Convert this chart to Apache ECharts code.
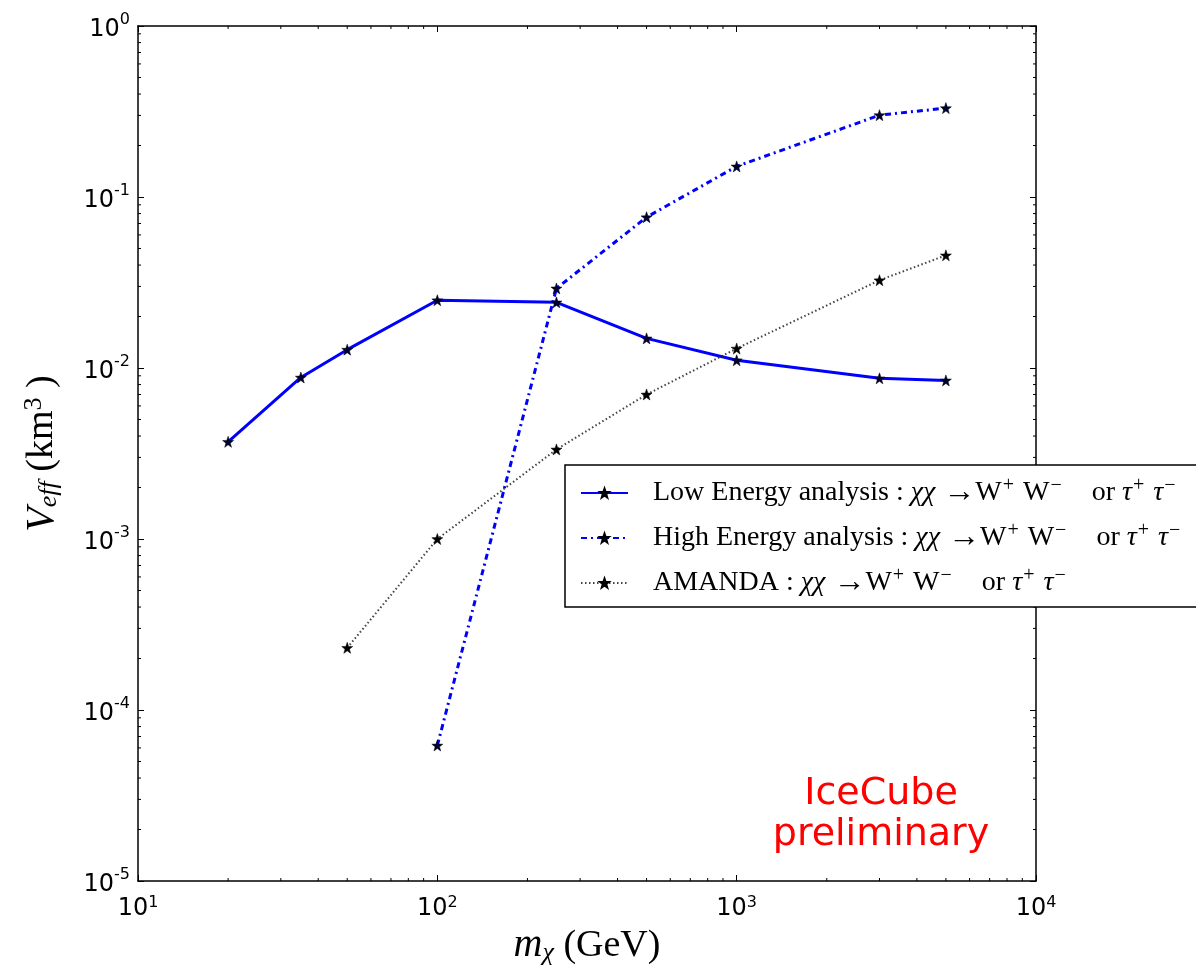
<!DOCTYPE html>
<html><head><meta charset="utf-8">
<script src="https://cdn.jsdelivr.net/npm/echarts@6/dist/echarts.min.js"></script>
<style>html,body{margin:0;padding:0;background:#fff}#c{width:1196px;height:966px}</style>
</head><body><div id="c"></div>
<script>
// ---- data ----
const massesLow = [20, 35, 50, 100, 250, 500, 1000, 3000, 5000];
const veffLow = [0.0037, 0.0088, 0.0128, 0.0249, 0.0242, 0.0149, 0.0111, 0.0087, 0.00846];
const massesHigh = [100, 250, 500, 1000, 3000, 5000];
const veffHigh = [6.2e-5, 0.0292, 0.0762, 0.151, 0.301, 0.331];
const massesAmanda = [50, 100, 250, 500, 1000, 3000, 5000];
const veffAmanda = [2.31e-4, 1.0e-3, 3.34e-3, 7.0e-3, 0.0130, 0.0326, 0.0456];
const seriesNames = ['Low Energy analysis', 'High Energy analysis', 'AMANDA'];
const xRange = [10, 10000];
const yRange = [1e-5, 1];
const minorMultipliers = [2, 3, 4, 5, 6, 7, 8, 9];

function pairs(xs, ys) { return xs.map((x, i) => [x, ys[i]]); }
function decadesBetween(lo, hi) { const d = []; for (let v = lo; v < hi * 0.999; v *= 10) d.push(v); return d; }
const xMinor = []; decadesBetween(xRange[0], xRange[1]).forEach(d => minorMultipliers.forEach(m => xMinor.push([d * m, 1e-3])));
const yMinor = []; decadesBetween(yRange[0], yRange[1]).forEach(d => minorMultipliers.forEach(m => yMinor.push([100, d * m])));

const STAR = 'path://M0,-10 L2.35,-3.24 L9.51,-3.09 L3.8,1.24 L5.88,8.09 L0,4 L-5.88,8.09 L-3.8,1.24 L-9.51,-3.09 L-2.35,-3.24 Z';
const SERIF = 'Liberation Serif';
const SANS = 'DejaVu Sans';

function tickLabel(margin, basePad) {
  return {
    margin: margin,
    showMinLabel: true, showMaxLabel: true,
    formatter: v => '{b|10}{s|' + Math.round(Math.log10(v)) + '}',
    rich: {
      b: { fontSize: 24, fontFamily: SANS, color: '#000', padding: basePad },
      s: { fontSize: 16, fontFamily: SANS, color: '#000', padding: [0, 0, 12, 0] }
    }
  };
}
const axisLineStyle = { show: true, lineStyle: { color: '#000', width: 1.5 } };
const majorTick = { show: true, inside: true, length: 6, lineStyle: { color: '#000', width: 1 } };

const legendRich = {
  sp: { width: 20, fontFamily: SERIF, fontSize: 28 },
  n: { fontFamily: SERIF, fontSize: 28, color: '#000' },
  i: { fontFamily: SERIF, fontSize: 28, fontStyle: 'italic', color: '#000' },
  ar: { fontFamily: SERIF, fontSize: 32, color: '#000' },
  sup: { fontFamily: SERIF, fontSize: 20, color: '#000', padding: [0, 2, 14, 1] }
};
const reaction = '{n|: }{i|χχ}{ar| →}{n|W}{sup|+}{n| W}{sup|−}{n|    or }{i|τ}{sup|+}{n| }{i|τ}{sup|−}';
const legendText = {
  'Low Energy analysis': '{sp|}{n|Low Energy analysis }' + reaction,
  'High Energy analysis': '{sp|}{n|High Energy analysis }' + reaction,
  'AMANDA': '{sp|}{n|AMANDA }' + reaction
};

function minorX(params, api) {
  const cs = params.coordSys;
  const p = api.coord([api.value(0), api.value(1)]);
  const b = cs.y + cs.height, t = cs.y;
  const st = { stroke: '#000', lineWidth: 1 };
  return { type: 'group', children: [
    { type: 'line', shape: { x1: p[0], y1: b, x2: p[0], y2: b - 3 }, style: st },
    { type: 'line', shape: { x1: p[0], y1: t, x2: p[0], y2: t + 3 }, style: st }
  ]};
}
function minorY(params, api) {
  const cs = params.coordSys;
  const p = api.coord([api.value(0), api.value(1)]);
  const l = cs.x, r = cs.x + cs.width;
  const st = { stroke: '#000', lineWidth: 1 };
  return { type: 'group', children: [
    { type: 'line', shape: { x1: l, y1: p[1], x2: l + 3, y2: p[1] }, style: st },
    { type: 'line', shape: { x1: r, y1: p[1], x2: r - 3, y2: p[1] }, style: st }
  ]};
}

const chart = echarts.init(document.getElementById('c'), null, { renderer: 'canvas' });
chart.setOption({
  backgroundColor: '#fff',
  animation: false,
  grid: { left: 138, top: 26, width: 898, height: 855, show: false, containLabel: false, outerBoundsMode: 'none' },
  xAxis: [
    { type: 'log', logBase: 10, min: xRange[0], max: xRange[1], position: 'bottom',
      axisLine: axisLineStyle, axisTick: majorTick, axisLabel: tickLabel(14, 0), splitLine: { show: false },
      name: '{m|m}{sub|χ}{n| (GeV)}', nameLocation: 'middle', nameGap: 44,
      nameTextStyle: { rich: {
        m: { fontFamily: SERIF, fontSize: 40, fontStyle: 'italic', color: '#000' },
        sub: { fontFamily: SERIF, fontSize: 26, fontStyle: 'italic', color: '#000', padding: [14, 0, 0, 0] },
        n: { fontFamily: SERIF, fontSize: 38, color: '#000' }
      } } },
    { type: 'log', logBase: 10, min: xRange[0], max: xRange[1], position: 'top',
      axisLine: axisLineStyle, axisTick: majorTick, axisLabel: { show: false }, splitLine: { show: false } }
  ],
  yAxis: [
    { type: 'log', logBase: 10, min: yRange[0], max: yRange[1], position: 'left',
      axisLine: axisLineStyle, axisTick: majorTick, axisLabel: tickLabel(8, [8, 0, 0, 0]), splitLine: { show: false },
      name: '{v|V}{sub|eff}{n| (km}{sup|3}{n| )}', nameLocation: 'middle', nameGap: 75, nameRotate: 90,
      nameTextStyle: { rich: {
        v: { fontFamily: SERIF, fontSize: 40, fontStyle: 'italic', color: '#000' },
        sub: { fontFamily: SERIF, fontSize: 26, fontStyle: 'italic', color: '#000', padding: [14, 0, 0, 0] },
        n: { fontFamily: SERIF, fontSize: 38, color: '#000' },
        sup: { fontFamily: SERIF, fontSize: 26, color: '#000', padding: [0, 0, 16, 0] }
      } } },
    { type: 'log', logBase: 10, min: yRange[0], max: yRange[1], position: 'right',
      axisLine: axisLineStyle, axisTick: majorTick, axisLabel: { show: false }, splitLine: { show: false } }
  ],
  legend: {
    orient: 'vertical', left: 565, top: 465,
    data: seriesNames,
    itemWidth: 47, itemHeight: 11, itemGap: 12,
    padding: [11, 40, 8, 15],
    borderColor: '#000', borderWidth: 1.5, borderRadius: 0, backgroundColor: '#fff',
    textStyle: { fontFamily: SERIF, fontSize: 28, lineHeight: 30, color: '#000', rich: legendRich },
    formatter: name => legendText[name]
  },
  graphic: [{
    type: 'text', x: 881, y: 774, z: 100,
    style: { text: 'IceCube\npreliminary', fill: '#ff0000', fontSize: 38, fontFamily: SANS,
      align: 'center', verticalAlign: 'top', lineHeight: 41 }
  }],
  series: [
    { name: seriesNames[0], type: 'line', data: pairs(massesLow, veffLow),
      symbol: STAR, symbolSize: 11, showSymbol: true,
      lineStyle: { color: '#0000ff', width: 3, type: 'solid' },
      itemStyle: { color: '#000033', borderColor: '#000', borderWidth: 0.5 } },
    { name: seriesNames[1], type: 'line', data: pairs(massesHigh, veffHigh),
      symbol: STAR, symbolSize: 11,
      lineStyle: { color: '#0000ff', width: 3, type: [6, 4, 2, 4] },
      itemStyle: { color: '#000033', borderColor: '#000', borderWidth: 0.5 } },
    { name: seriesNames[2], type: 'line', data: pairs(massesAmanda, veffAmanda),
      symbol: STAR, symbolSize: 11,
      lineStyle: { color: '#222', width: 2, type: [1.5, 2.5], opacity: 0.85 },
      itemStyle: { color: '#000', borderColor: '#000', borderWidth: 0.5 } },
    { name: 'xminor', type: 'custom', data: xMinor, renderItem: minorX, silent: true, clip: false, z: 3 },
    { name: 'yminor', type: 'custom', data: yMinor, renderItem: minorY, silent: true, clip: false, z: 3 }
  ]
});
</script></body></html>
